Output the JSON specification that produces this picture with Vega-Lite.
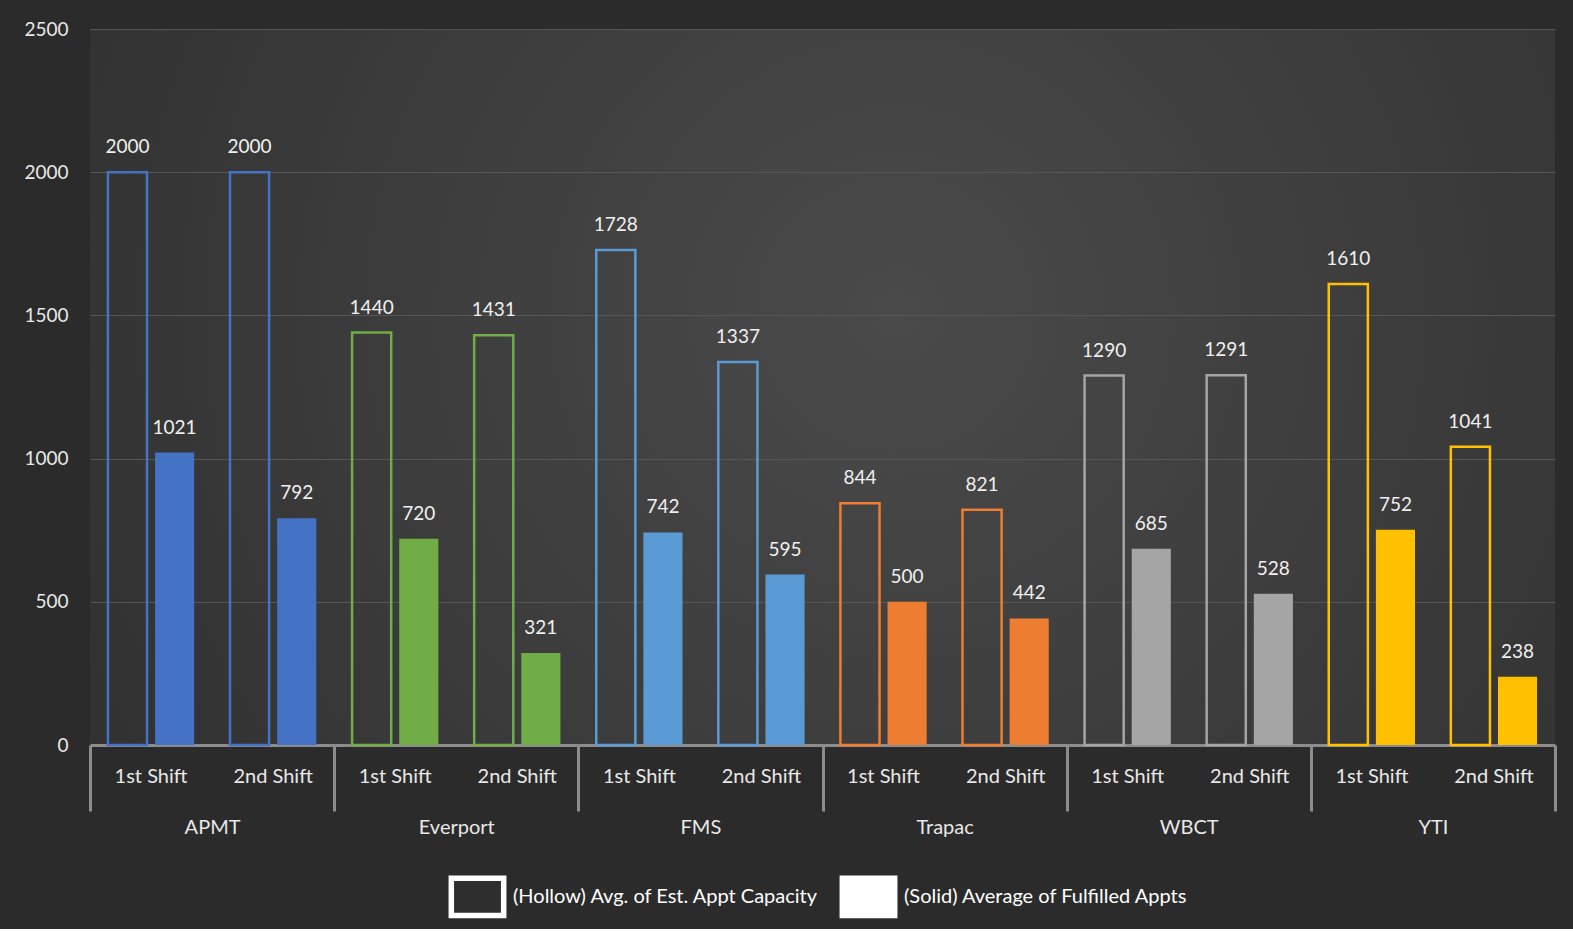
{
  "$schema": "https://vega.github.io/schema/vega-lite/v6.json",
  "width": 1465,
  "height": 716,
  "padding": {"left": 23, "top": 20, "right": 18, "bottom": 2},
  "background": "#2b2b2b",
  "config": {
    "font": "Lato",
    "view": {
      "stroke": null,
      "fill": {
        "gradient": "radial",
        "x1": 0.55, "y1": 0.45, "x2": 0.55, "y2": 0.45,
        "r1": 0, "r2": 0.8,
        "stops": [
          {"offset": 0, "color": "#4a4a4a"},
          {"offset": 1, "color": "#2a2a2a"}
        ]
      }
    },
    "axis": {"labelFont": "Lato", "labelColor": "#e8e8e8", "title": null},
    "legend": {"layout": {"bottom": {"anchor": "middle"}}}
  },
  "data": {
    "values": [
      {"terminal": "APMT", "shift": "1st Shift", "series": "Hollow", "value": 2000},
      {"terminal": "APMT", "shift": "1st Shift", "series": "Solid", "value": 1021},
      {"terminal": "APMT", "shift": "2nd Shift", "series": "Hollow", "value": 2000},
      {"terminal": "APMT", "shift": "2nd Shift", "series": "Solid", "value": 792},
      {"terminal": "Everport", "shift": "1st Shift", "series": "Hollow", "value": 1440},
      {"terminal": "Everport", "shift": "1st Shift", "series": "Solid", "value": 720},
      {"terminal": "Everport", "shift": "2nd Shift", "series": "Hollow", "value": 1431},
      {"terminal": "Everport", "shift": "2nd Shift", "series": "Solid", "value": 321},
      {"terminal": "FMS", "shift": "1st Shift", "series": "Hollow", "value": 1728},
      {"terminal": "FMS", "shift": "1st Shift", "series": "Solid", "value": 742},
      {"terminal": "FMS", "shift": "2nd Shift", "series": "Hollow", "value": 1337},
      {"terminal": "FMS", "shift": "2nd Shift", "series": "Solid", "value": 595},
      {"terminal": "Trapac", "shift": "1st Shift", "series": "Hollow", "value": 844},
      {"terminal": "Trapac", "shift": "1st Shift", "series": "Solid", "value": 500},
      {"terminal": "Trapac", "shift": "2nd Shift", "series": "Hollow", "value": 821},
      {"terminal": "Trapac", "shift": "2nd Shift", "series": "Solid", "value": 442},
      {"terminal": "WBCT", "shift": "1st Shift", "series": "Hollow", "value": 1290},
      {"terminal": "WBCT", "shift": "1st Shift", "series": "Solid", "value": 685},
      {"terminal": "WBCT", "shift": "2nd Shift", "series": "Hollow", "value": 1291},
      {"terminal": "WBCT", "shift": "2nd Shift", "series": "Solid", "value": 528},
      {"terminal": "YTI", "shift": "1st Shift", "series": "Hollow", "value": 1610},
      {"terminal": "YTI", "shift": "1st Shift", "series": "Solid", "value": 752},
      {"terminal": "YTI", "shift": "2nd Shift", "series": "Hollow", "value": 1041},
      {"terminal": "YTI", "shift": "2nd Shift", "series": "Solid", "value": 238}
    ]
  },
  "transform": [{"calculate": "datum.terminal + '|' + datum.shift", "as": "key"}],
  "layer": [
    {
      "encoding": {
        "x": {
          "field": "key", "type": "nominal", "sort": null,
          "scale": {"paddingInner": 0, "paddingOuter": 0},
          "axis": {
            "labelExpr": "split(datum.label, '|')[1]",
            "labelAngle": 0, "ticks": false,
            "domain": true, "domainColor": "#8c8c8c", "domainWidth": 3,
            "labelPadding": 21, "labelFontSize": 20, "grid": false
          }
        },
        "xOffset": {
          "field": "series", "type": "nominal",
          "scale": {"paddingInner": 0.17, "paddingOuter": 0.38}
        },
        "y": {
          "field": "value", "type": "quantitative", "stack": null,
          "scale": {"domain": [0, 2500], "nice": false},
          "axis": {
            "values": [0, 500, 1000, 1500, 2000, 2500], "format": "d",
            "grid": true, "gridColor": "#565656", "gridWidth": 1,
            "domain": false, "ticks": false,
            "labelPadding": 22, "labelFontSize": 19
          }
        }
      },
      "layer": [
        {
          "transform": [{"filter": "datum.series === 'Hollow'"}],
          "mark": {"type": "bar", "filled": false, "strokeWidth": 2.5},
          "encoding": {
            "color": {
              "field": "terminal", "type": "nominal",
              "scale": {
                "domain": ["APMT", "Everport", "FMS", "Trapac", "WBCT", "YTI"],
                "range": ["#4472C4", "#70AD47", "#5B9BD5", "#ED7D31", "#A5A5A5", "#FFC000"]
              },
              "legend": null
            }
          }
        },
        {
          "transform": [{"filter": "datum.series === 'Solid'"}],
          "mark": {"type": "bar"},
          "encoding": {
            "color": {
              "field": "terminal", "type": "nominal",
              "scale": {
                "domain": ["APMT", "Everport", "FMS", "Trapac", "WBCT", "YTI"],
                "range": ["#4472C4", "#70AD47", "#5B9BD5", "#ED7D31", "#A5A5A5", "#FFC000"]
              },
              "legend": null
            }
          }
        },
        {
          "mark": {"type": "text", "dy": -19, "baseline": "alphabetic", "fontSize": 19, "color": "#f0f0f0"},
          "encoding": {"text": {"field": "value", "type": "quantitative", "format": "d"}}
        }
      ]
    },
    {
      "mark": {"type": "bar", "opacity": 0},
      "encoding": {
        "x": {
          "field": "terminal", "type": "nominal",
          "sort": ["APMT", "Everport", "FMS", "Trapac", "WBCT", "YTI"],
          "scale": {"paddingInner": 0, "paddingOuter": 0},
          "axis": {
            "orient": "bottom", "domain": false, "grid": false,
            "ticks": true, "tickBand": "extent", "tickSize": 66,
            "tickColor": "#8c8c8c", "tickWidth": 3,
            "labelPadding": 6, "labelFontSize": 20, "labelAngle": 0
          }
        },
        "y": {"field": "value", "type": "quantitative", "stack": null},
        "fill": {
          "field": "series", "type": "nominal",
          "scale": {"domain": ["Hollow", "Solid"], "range": ["#2e2e2e", "#ffffff"]},
          "legend": {
            "orient": "bottom", "direction": "horizontal", "title": null,
            "labelExpr": "datum.value === 'Hollow' ? '(Hollow) Avg. of Est. Appt Capacity' : '(Solid) Average of Fulfilled Appts'",
            "labelFontSize": 20, "labelColor": "#ffffff", "labelFont": "Lato",
            "labelLimit": 0,
            "symbolType": "M-1.4,-1L1.4,-1L1.4,1L-1.4,1Z",
            "symbolSize": 1400,
            "symbolStrokeColor": "#ffffff", "symbolStrokeWidth": 5.5,
            "symbolOpacity": 1,
            "columnPadding": 12, "labelOffset": 14, "offset": 38
          }
        }
      }
    }
  ],
  "resolve": {"scale": {"x": "independent"}}
}
